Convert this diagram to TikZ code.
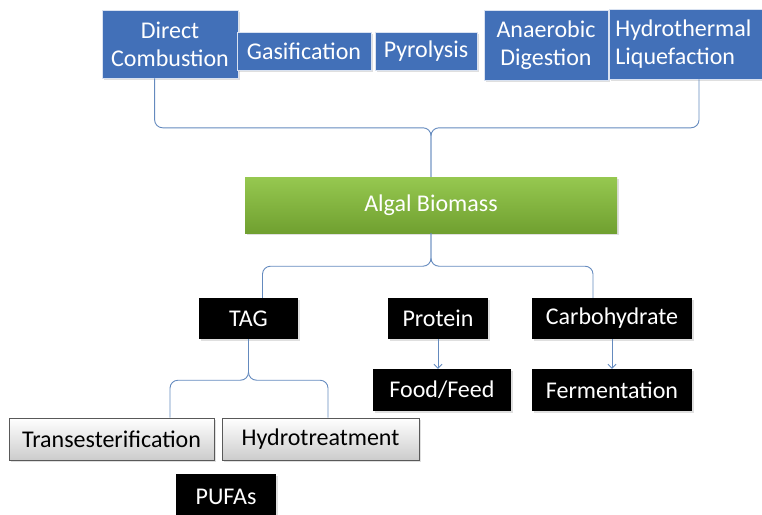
\documentclass[tikz,border=0pt]{standalone}
\usepackage{fontspec}
\setmainfont{Carlito}
\usetikzlibrary{shadows,arrows.meta,calc}
\definecolor{boxblue}{RGB}{66,112,184}
\definecolor{connc}{RGB}{100,138,190}
\definecolor{greentop}{RGB}{150,200,80}
\definecolor{greenbot}{RGB}{112,160,48}
\begin{document}
\begin{tikzpicture}[x=1pt,y=-1pt,
  base/.style={inner sep=0pt, align=center, font=\fontsize{24}{28}\selectfont,
    drop shadow={opacity=0.25,shadow xshift=1.5pt,shadow yshift=-1.5pt}},
  bluebox/.style={base, fill=boxblue, draw=white!80!boxblue, line width=0.8pt, text=white},
  greenbox/.style={base, top color=greentop, bottom color=greenbot, draw=none, text=white},
  blackbox/.style={base, fill=black, draw=none, text=white},
  graybox/.style={base, top color=white, bottom color=black!20, draw=black!65, line width=1pt, text=black},
  connector/.style={draw=connc, line width=0.9pt},
  arrowc/.style={connector, -{Straight Barb[length=4pt,width=8pt]}}
]
\useasboundingbox (0,0) rectangle (762,514);
% top row
\node[bluebox, minimum width=136pt, minimum height=68pt] (dc) at (170,44) {Direct\\Combustion};
\node[bluebox, minimum width=134pt, minimum height=38pt] (gas) at (304,51.5) {Gasification};
\node[bluebox, minimum width=102pt, minimum height=38pt] (pyr) at (426,51.5) {Pyrolysis};
\node[bluebox, minimum width=124pt, minimum height=70pt] (ad) at (546,45) {Anaerobic\\Digestion};
\node[bluebox, anchor=west, text width=149pt, inner xsep=6pt, align=left, minimum height=70pt] (ht) at (609,44) {Hydrothermal\\Liquefaction};
% centre
\node[greenbox, minimum width=372pt, minimum height=56pt] (ab) at (431,205) {Algal Biomass};
% fractions
\node[blackbox, minimum width=99pt, minimum height=41pt] (tag) at (248.5,318.5) {TAG};
\node[blackbox, minimum width=100pt, minimum height=41pt] (prot) at (438,318.5) {Protein};
\node[blackbox, minimum width=160pt, minimum height=41pt] (carb) at (612,318.5) {Carbohydrate};
\node[blackbox, minimum width=138pt, minimum height=42pt] (food) at (442,390) {Food/Feed};
\node[blackbox, minimum width=160pt, minimum height=42pt] (ferm) at (612,390) {Fermentation};
\node[graybox, minimum width=205pt, minimum height=42pt] (trans) at (111.5,439) {Transesterification};
\node[graybox, minimum width=197pt, minimum height=42pt] (hydro) at (320.5,439) {Hydrotreatment};
\node[blackbox, minimum width=100pt, minimum height=46pt] (pufa) at (226,497) {PUFAs};
% top brace
\draw[connector, rounded corners=8] ($(dc.south west)+(53,0)$) |- ($(ab.north)+(0,-49)$) -- (ab.north);
\draw[connector, rounded corners=8] ($(ht.south west)+(90,0)$) |- ($(ab.north)+(0,-49)$) -- (ab.north);
% lower brace
\draw[connector, rounded corners=8] ($(tag.north)+(14,0)$) |- ($(ab.south)+(0,33)$) -- (ab.south);
\draw[connector, rounded corners=8] ($(carb.north)+(-19,0)$) |- ($(ab.south)+(0,33)$) -- (ab.south);
% TAG brace
\draw[connector, rounded corners=8] ($(trans.north)+(58.5,0)$) |- ($(tag.south)+(0,41)$) -- (tag.south);
\draw[connector, rounded corners=8] ($(hydro.north)+(7.5,0)$) |- ($(tag.south)+(0,41)$) -- (tag.south);
% arrows
\draw[arrowc] (prot.south) -- (prot.south |- food.north);
\draw[arrowc] (carb.south) -- (ferm.north);
\end{tikzpicture}
\end{document}
